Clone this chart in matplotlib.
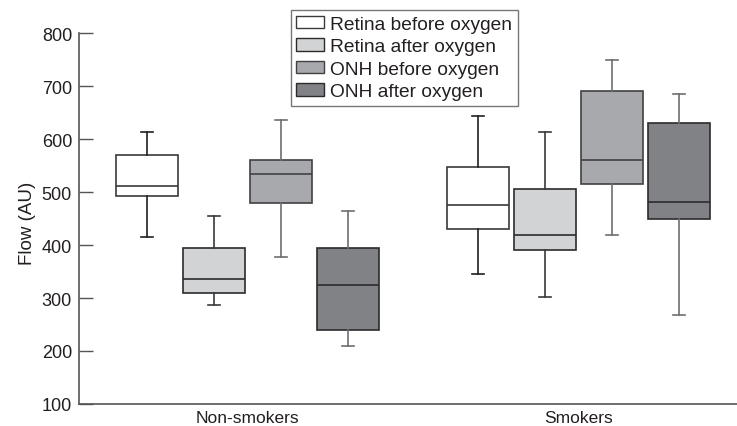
import matplotlib
matplotlib.use("Agg")
import matplotlib.pyplot as plt
from matplotlib.patches import Patch

plt.rcParams['font.family'] = ['Liberation Sans', 'DejaVu Sans']

groups = ["Non-smokers", "Smokers"]
series = ["Retina before oxygen", "Retina after oxygen", "ONH before oxygen", "ONH after oxygen"]

# [whisker low, Q1, median, Q3, whisker high] per series, one value per group
retina_before = [[416, 492, 512, 570, 614], [345, 431, 475, 547, 644]]
retina_after = [[286, 310, 335, 394, 455], [301, 391, 418, 505, 613]]
onh_before = [[377, 479, 534, 560, 635], [418, 516, 561, 691, 750]]
onh_after = [[210, 240, 325, 394, 464], [268, 449, 481, 630, 684]]

yticks = [100, 200, 300, 400, 500, 600, 700, 800]

fills = ['#ffffff', '#d1d3d4', '#a7a9ac', '#808285']
edges = ['#3a3a3c', '#2b2b2d', '#414042', '#2b2b2d']
whisk = ['#231f20', '#3a3a3c', '#6d6e71', '#6d6e71']
txt = '#231f20'

fig = plt.figure(figsize=(7.37, 4.27), dpi=100)
ax = fig.add_axes([79/737, 1 - 405/427, 1 - 79/737, (405 - 34)/427])

all_series = [retina_before, retina_after, onh_before, onh_after]
step = 0.2022
width = 0.187
for si, s in enumerate(all_series):
    stats = []
    pos = []
    for gi, v in enumerate(s):
        stats.append(dict(whislo=v[0], q1=v[1], med=v[2], q3=v[3], whishi=v[4], fliers=[]))
        pos.append(gi + (si - 1.5) * step)
    ax.bxp(stats, positions=pos, widths=width, capwidths=0.038, patch_artist=True,
           showfliers=False,
           boxprops=dict(facecolor=fills[si], edgecolor=edges[si], linewidth=1.2),
           medianprops=dict(color=edges[si], linewidth=1.2),
           whiskerprops=dict(color=whisk[si], linewidth=1.2),
           capprops=dict(color=whisk[si], linewidth=1.2),
           manage_ticks=False)

ax.set_xlim(-0.508, 1.478)
ax.set_ylim(100, 800)
ax.set_yticks(yticks)
ax.set_yticklabels([str(t) for t in yticks])
ax.set_xticks([0, 1])
ax.set_xticklabels(groups)

for sp in ['top', 'right']:
    ax.spines[sp].set_visible(False)
for sp in ['left', 'bottom']:
    ax.spines[sp].set_color('#555555')
    ax.spines[sp].set_linewidth(1.2)

ax.tick_params(axis='y', direction='in', length=10, width=1.0, color='#555555',
               labelsize=13, labelcolor=txt, pad=5)
ax.tick_params(axis='x', length=0, labelsize=12.5, labelcolor=txt, pad=4.5)

ax.set_ylabel("Flow (AU)", fontsize=13.5, color=txt)
ax.yaxis.set_label_coords(-0.066, 0.49)

handles = [Patch(facecolor=fills[i], edgecolor=edges[i], linewidth=1.0) for i in range(4)]
leg = fig.legend(handles, series, loc='upper left', bbox_to_anchor=(290.7/737, 1 - 11/427),
                 borderaxespad=0, fontsize=13.8, frameon=True, fancybox=False,
                 borderpad=0.3, handlelength=1.44, handleheight=0.64, handletextpad=0.32,
                 labelspacing=0.28)
leg.get_frame().set_edgecolor('#555555')
leg.get_frame().set_linewidth(1.0)
for t in leg.get_texts():
    t.set_color(txt)

fig.savefig("out.png", dpi=100)
